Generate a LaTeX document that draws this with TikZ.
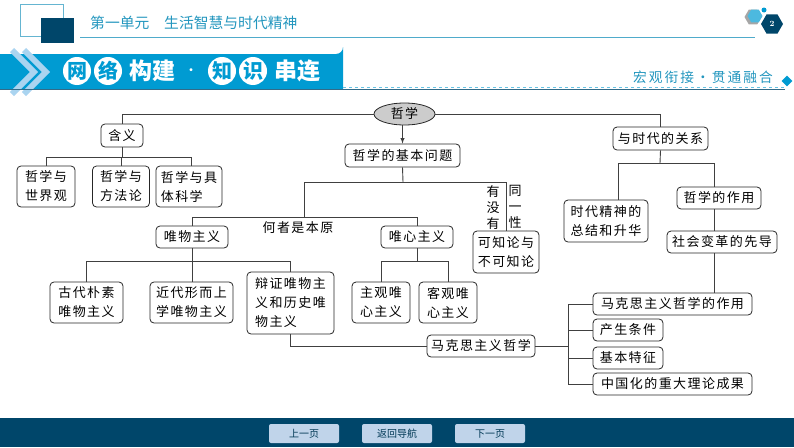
\documentclass[tikz,border=0pt]{standalone}
\usepackage{fontspec}
\usetikzlibrary{shapes.geometric}
\newfontfamily\zhfont[LetterSpace=11]{Noto Sans CJK SC}
\newfontfamily\zhplain{Noto Sans CJK SC}
\definecolor{navy}{RGB}{0,70,106}
\definecolor{qing}{RGB}{0,155,210}
\definecolor{qianlan}{RGB}{170,212,240}
\definecolor{biaoti}{RGB}{35,150,190}
\definecolor{anniu}{RGB}{192,212,234}
\tikzset{
	kuang/.style={draw=black!85,line width=0.8pt,rounded corners=4pt,inner sep=0pt,align=center,font=\zhfont\fontsize{13}{19}\selectfont},
	xian/.style={draw=black!75,line width=0.9pt},
	quan/.style={circle,fill=white,inner sep=0pt,minimum size=28pt,text=qing,font=\zhplain\bfseries\fontsize{20}{20}\selectfont},
	banner/.style={inner sep=0pt,text=white,font=\zhplain\bfseries\fontsize{23}{23}\selectfont},
	anjian/.style={fill=anniu,rounded corners=2pt,inner sep=0pt,minimum width=70pt,minimum height=19pt,text=navy!80!black,font=\zhplain\fontsize{10}{10}\selectfont}
}
\begin{document}
\begin{tikzpicture}[x=1pt,y=-1pt]
	\useasboundingbox (0,0) rectangle (794,447);

	% header
	\node[draw=biaoti!70,line width=0.7pt,minimum width=43pt,minimum height=32pt,inner sep=0pt] (fangkuang) at (41.5,20) {};
	\node[fill=navy,minimum width=33pt,minimum height=25pt,inner sep=0pt] (shenkuang) at (57.5,30.5) {};
	\node[inner sep=0pt,anchor=west,text=biaoti,font=\zhplain\fontsize{14.8}{15}\selectfont] (danyuan) at (90,23) {第一单元\hspace{1em}生活智慧与时代精神};
	\coordinate (xianzuo) at (80,37);
	\coordinate (xianyou) at (755,37);
	\draw[biaoti!80,line width=0.8pt] (xianzuo) -- (xianyou);
	\node[regular polygon,regular polygon sides=6,fill=black!35,minimum size=17pt,inner sep=0pt] (yingzi) at (753,17) {};
	\node[regular polygon,regular polygon sides=6,fill=qing!70,minimum size=15pt,inner sep=0pt] (qianliu) at (755,16) {};
	\node[circle,fill=qing,minimum size=5pt,inner sep=0pt] (xiaodian) at (764,10) {};
	\node[regular polygon,regular polygon sides=6,fill=navy,minimum size=22pt,inner sep=0pt,text=white,font=\bfseries\fontsize{8}{8}\selectfont] (yema) at (772,24) {2};

	% banner
	\fill[qing] (0,54) -- (336,54) arc[start angle=90,end angle=0,radius=7] -- (343,89) -- (0,89) -- cycle;
	\draw[qianlan,line width=6pt] (12,50) -- (34,72) -- (12,94);
	\draw[qianlan,line width=6pt] (24,50) -- (46,72) -- (24,94);
	\node[quan] (wang) at (77,71) {网};
	\node[quan] (luo) at (108,71) {络};
	\node[banner] (goujian) at (152,71) {构建};
	\node[banner,font=\zhplain\fontsize{14}{14}\selectfont] (dian) at (191,72) {·};
	\node[quan] (zhi) at (222,71) {知};
	\node[quan] (shi) at (253,71) {识};
	\node[banner] (chuanlian) at (297,71) {串连};
	\node[inner sep=0pt,anchor=east,text=biaoti,font=\zhplain\fontsize{13.7}{14}\addfontfeature{LetterSpace=15}\selectfont] (hongguan) at (773,77) {宏观衔接·贯通融合};
	\node[diamond,fill=qing,minimum size=11pt,inner sep=0pt] (lingxing) at (787,81) {};
	\coordinate (xuzuo) at (343,87);
	\coordinate (xuyou) at (785,87);
	\coordinate (shizuo) at (0,89);
	\coordinate (shiyou) at (785,89);
	\draw[qing!60,line width=0.6pt,dashed] (xuzuo) -- (xuyou);
	\draw[navy!80,line width=0.8pt] (shizuo) -- (shiyou);

	% top level
	\node[draw=black!85,fill=black!20,line width=0.8pt,ellipse,minimum width=61pt,minimum height=22pt,inner sep=0pt,font=\zhfont\fontsize{13}{19}\selectfont] (zhexue) at (404.5,114) {哲学};
	\node[kuang,minimum width=42pt,minimum height=23pt] (hanyi) at (122,135.5) {含义};
	\node[kuang,minimum width=115pt,minimum height=23pt] (jibenwenti) at (402.5,155.5) {哲学的基本问题};
	\node[kuang,minimum width=95pt,minimum height=23pt] (guanxi) at (660.5,138.5) {与时代的关系};

	% hanyi
	\node[kuang,minimum width=58pt,minimum height=41pt] (shijieguan) at (46,186.5) {哲学与\\世界观};
	\node[kuang,minimum width=57pt,minimum height=41pt] (fangfalun) at (121,186.5) {哲学与\\方法论};
	\node[kuang,minimum width=66pt,minimum height=41pt,align=left] (jutikexue) at (189,186.5) {哲学与具\\体科学};

	% jibenwenti
	\node[kuang,minimum width=72pt,minimum height=22pt] (weiwu) at (192,237) {唯物主义};
	\node[kuang,minimum width=72pt,minimum height=22pt] (weixin) at (417,237) {唯心主义};
	\node[kuang,minimum width=66pt,minimum height=42pt] (kezhilun) at (506,252) {可知论与\\不可知论};
	\node[inner sep=0pt,font=\zhfont\fontsize{13}{19}\selectfont] (benyuan) at (298,228) {何者是本原};
	\node[inner sep=0pt,align=center,font=\zhfont\fontsize{13}{16.3}\selectfont] (youmeiyou) at (493,207.5) {有\\没\\有};
	\node[inner sep=0pt,align=center,font=\zhfont\fontsize{13}{16}\selectfont] (tongyixing) at (515,207) {同\\一\\性};

	% weiwu
	\node[kuang,minimum width=73pt,minimum height=41pt] (gudai) at (86.5,302.5) {古代朴素\\唯物主义};
	\node[kuang,minimum width=83pt,minimum height=41pt] (jindai) at (191.5,302.5) {近代形而上\\学唯物主义};
	\node[kuang,minimum width=87pt,minimum height=62pt,align=left] (bianzheng) at (290.5,303) {辩证唯物主\\义和历史唯\\物主义};

	% weixin
	\node[kuang,minimum width=58pt,minimum height=41pt] (zhuguan) at (381,302.5) {主观唯\\心主义};
	\node[kuang,minimum width=58pt,minimum height=41pt] (keguan) at (448,302.5) {客观唯\\心主义};

	% shidai
	\node[kuang,minimum width=84pt,minimum height=42pt] (zongjie) at (606,221) {时代精神的\\总结和升华};
	\node[kuang,minimum width=84pt,minimum height=22pt] (zuoyong) at (719,198) {哲学的作用};
	\node[kuang,minimum width=110pt,minimum height=22pt] (xiandao) at (722,242) {社会变革的先导};

	% makesi
	\node[kuang,minimum width=108pt,minimum height=22pt] (makesi) at (481,346) {马克思主义哲学};
	\node[kuang,minimum width=159pt,minimum height=22pt] (mkszuoyong) at (672.5,304) {马克思主义哲学的作用};
	\node[kuang,minimum width=70pt,minimum height=22pt] (tiaojian) at (628,330) {产生条件};
	\node[kuang,minimum width=70pt,minimum height=22pt] (tezheng) at (628,358) {基本特征};
	\node[kuang,minimum width=159pt,minimum height=22pt] (chengguo) at (672.5,384) {中国化的重大理论成果};

	% junctions
	\coordinate (fenhan) at (122,157);
	\coordinate (fenwen) at (403,182);
	\coordinate (fenzuo) at (304,217);
	\coordinate (fenwu) at (192,261);
	\coordinate (fenxin) at (417,261);
	\coordinate (fenshi) at (660,163);
	\coordinate (fenzong) at (618,163);
	\coordinate (fenzuoyong) at (714,163);
	\coordinate (fenma) at (568,346);

	% connectors
	\draw[xian] (zhexue.west) -| (hanyi.north);
	\draw[xian] (zhexue.east) -| (guanxi.north);
	\draw[xian,-latex] (zhexue.south -| jibenwenti.north) -- (jibenwenti.north);
	\draw[xian] (hanyi.south) -- (fenhan);
	\draw[xian] (fenhan) -| (shijieguan.north);
	\draw[xian] (fenhan) -| (fangfalun.north);
	\draw[xian] (fenhan) -| ([xshift=2pt]jutikexue.north);
	\draw[xian] (jibenwenti.south) -- (fenwen);
	\draw[xian] (fenwen) -| (fenzuo);
	\draw[xian] (fenzuo) -| (weiwu.north);
	\draw[xian] (fenzuo) -| (weixin.north);
	\draw[xian] (fenwen) -| (kezhilun.north);
	\draw[xian] (weiwu.south) -- (fenwu);
	\draw[xian] (fenwu) -| (gudai.north);
	\draw[xian] (fenwu) -- (jindai.north -| fenwu);
	\draw[xian] (fenwu) -| (bianzheng.north);
	\draw[xian] (weixin.south) -- (fenxin);
	\draw[xian] (fenxin) -| (zhuguan.north);
	\draw[xian] (fenxin) -| (keguan.north);
	\draw[xian] (bianzheng.south) |- (makesi.west);
	\draw[xian] (makesi.east) -- (fenma);
	\draw[xian] (fenma) |- (mkszuoyong.west);
	\draw[xian] (fenma) |- (tiaojian.west);
	\draw[xian] (fenma) |- (tezheng.west);
	\draw[xian] (fenma) |- (chengguo.west);
	\draw[xian] (guanxi.south) -- (fenshi);
	\draw[xian] (fenshi) -- (fenzong) -- (fenzong |- zongjie.north);
	\draw[xian] (fenshi) -- (fenzuoyong) -- (fenzuoyong |- zuoyong.north);
	\draw[xian] (fenzuoyong |- zuoyong.south) -- (fenzuoyong |- xiandao.north);
	\draw[xian] (fenzuoyong |- xiandao.south) -- (fenzuoyong |- mkszuoyong.north);

	% footer
	\fill[navy] (0,418) rectangle (794,447);
	\node[anjian] (shangyiye) at (304,433.5) {上一页};
	\node[anjian] (fanhui) at (397,433.5) {返回导航};
	\node[anjian] (xiayiye) at (490,433.5) {下一页};
\end{tikzpicture}
\end{document}
